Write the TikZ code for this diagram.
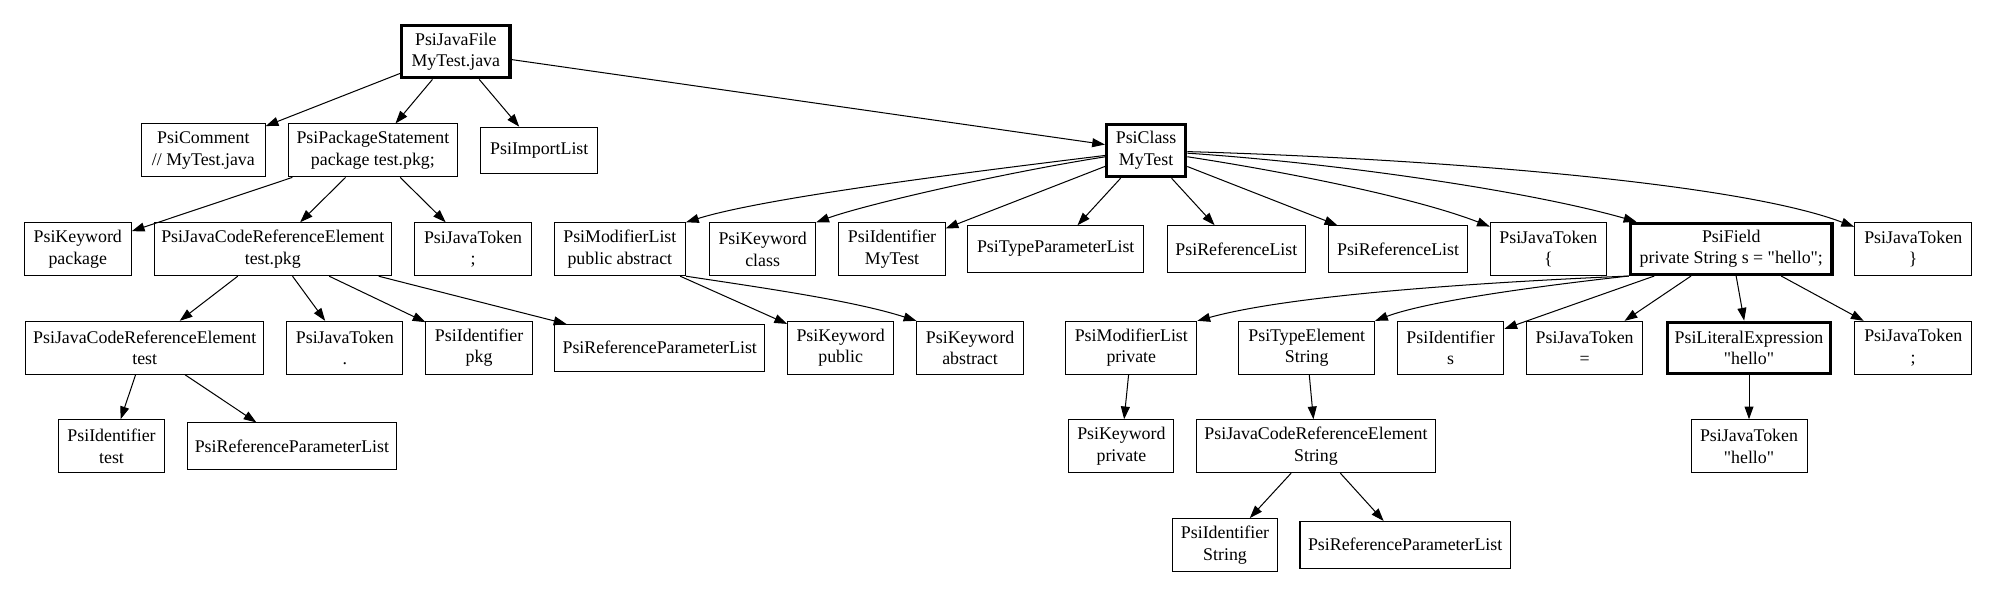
\documentclass[tikz,border=0pt]{standalone}
\usepackage{fontspec}
\setmainfont{Liberation Serif}
\usetikzlibrary{arrows.meta}
\newcommand{\qq}{\textquotedbl}
\tikzset{
  box/.style={draw, line width=0.8pt, rectangle, inner sep=0pt, align=center,
    font=\fontsize{14}{16.8}\selectfont, minimum height=41.5pt},
  onebox/.style={box, minimum height=36.5pt},
  boldbox/.style={box, line width=2.6pt},
  arr/.style={line width=0.8pt, -{Triangle[length=10pt,width=7pt]}},
}
\begin{document}
\begin{tikzpicture}[x=1pt,y=-1pt]
\useasboundingbox (0,0) rectangle (1568,469);
% row 0
\node[boldbox, minimum width=85pt, minimum height=41pt] (jf) at (357.5,40.5) {PsiJavaFile\\MyTest.java};
% row 1
\node[box, minimum width=97pt] (cmt) at (159.5,118) {PsiComment\\// MyTest.java};
\node[box, minimum width=133pt] (pkg) at (292.5,118) {PsiPackageStatement\\package test.pkg;};
\node[onebox, minimum width=92pt] (imp) at (423,118) {PsiImportList};
\node[boldbox, minimum width=62pt, minimum height=41pt] (cls) at (899,118) {PsiClass\\MyTest};
% row 2
\node[box, minimum width=84pt] (kwp) at (61,195.5) {PsiKeyword\\package};
\node[box, minimum width=186pt] (jcr1) at (214,195.5) {PsiJavaCodeReferenceElement\\test.pkg};
\node[box, minimum width=92pt] (tsemi1) at (371,195.5) {PsiJavaToken\\;};
\node[box, minimum width=103pt] (mla) at (486.2,195.5) {PsiModifierList\\public abstract};
\node[box, minimum width=83.3pt] (kwc) at (598.2,195.5) {PsiKeyword\\class};
\node[box, minimum width=83.3pt] (idm) at (699.7,195.5) {PsiIdentifier\\MyTest};
\node[onebox, minimum width=138pt] (tpl) at (828.1,195.3) {PsiTypeParameterList};
\node[onebox, minimum width=107.8pt] (rl1) at (969.8,195.3) {PsiReferenceList};
\node[onebox, minimum width=108.8pt] (rl2) at (1096.6,195.3) {PsiReferenceList};
\node[box, minimum width=91pt] (tlb) at (1214.5,195.5) {PsiJavaToken\\\{};
\node[boldbox, minimum width=158pt, minimum height=40pt] (fld) at (1358,195.2) {PsiField\\private String s = \qq hello\qq;};
\node[box, minimum width=92pt] (trb) at (1500.7,195.5) {PsiJavaToken\\\}};
% row 3
\node[box, minimum width=187pt] (jcr2) at (113.5,272.8) {PsiJavaCodeReferenceElement\\test};
\node[box, minimum width=91pt] (tdot) at (270.5,272.8) {PsiJavaToken\\.};
\node[box, minimum width=83.4pt] (idp) at (375.8,272.8) {PsiIdentifier\\pkg};
\node[onebox, minimum width=164.7pt] (rpl1) at (517.5,272.8) {PsiReferenceParameterList};
\node[box, minimum width=83.2pt] (kwpub) at (659.4,272.8) {PsiKeyword\\public};
\node[box, minimum width=83.4pt] (kwabs) at (760.9,272.8) {PsiKeyword\\abstract};
\node[box, minimum width=102.8pt] (mlp) at (887.4,272.8) {PsiModifierList\\private};
\node[box, minimum width=106.4pt] (te) at (1025,272.8) {PsiTypeElement\\String};
\node[box, minimum width=83.6pt] (ids) at (1137.8,272.8) {PsiIdentifier\\s};
\node[box, minimum width=91pt] (teq) at (1243,272.8) {PsiJavaToken\\=};
\node[boldbox, minimum width=128pt, minimum height=40pt] (lit) at (1371.9,272.8) {PsiLiteralExpression\\\qq hello\qq};
\node[box, minimum width=92pt] (tsemi2) at (1500.7,272.8) {PsiJavaToken\\;};
% row 4
\node[box, minimum width=83pt] (idt) at (87.5,350) {PsiIdentifier\\test};
\node[onebox, minimum width=164pt] (rpl2) at (229,350) {PsiReferenceParameterList};
\node[box, minimum width=82.5pt] (kwpriv) at (879.6,350) {PsiKeyword\\private};
\node[box, minimum width=187pt] (jcr3) at (1032.2,350) {PsiJavaCodeReferenceElement\\String};
\node[box, minimum width=91pt] (thello) at (1371.9,350) {PsiJavaToken\\\qq hello\qq};
% row 5
\node[box, minimum width=83pt] (ids2) at (960.9,427.5) {PsiIdentifier\\String};
\node[onebox, minimum width=165pt] (rpl3) at (1102.2,427.3) {PsiReferenceParameterList};
% edges
\draw[arr] (jf) -- (cmt);
\draw[arr] (jf) -- (pkg);
\draw[arr] (jf) -- (imp);
\draw[arr] (jf) -- (cls);
\draw[arr] (pkg) -- (kwp);
\draw[arr] (pkg) -- (jcr1);
\draw[arr] (pkg) -- (tsemi1);
\draw[arr] (cls) .. controls (760,135) and (600,155) .. (mla.north east);
\draw[arr] (cls) .. controls (790,135) and (680,160) .. (kwc.north east);
\draw[arr] (cls) -- (idm);
\draw[arr] (cls) -- (tpl);
\draw[arr] (cls) -- (rl1);
\draw[arr] (cls) -- (rl2);
\draw[arr] (cls) .. controls (1010,135) and (1110,155) .. (tlb);
\draw[arr] (cls) .. controls (1050,128) and (1200,150) .. (fld);
\draw[arr] (cls) .. controls (1110,124) and (1360,142) .. (trb);
\draw[arr] (jcr1) -- (jcr2);
\draw[arr] (jcr1) -- (tdot);
\draw[arr] (jcr1) -- (idp);
\draw[arr] (jcr1) -- (rpl1);
\draw[arr] (mla) -- (kwpub);
\draw[arr] (mla.south east) .. controls (600,226) and (670,236) .. (kwabs.north west);
\draw[arr] (fld.south west) .. controls (1150,222) and (1010,232) .. (mlp.north east);
\draw[arr] (fld.south west) .. controls (1210,224) and (1120,236) .. (te.north east);
\draw[arr] (fld) -- (ids);
\draw[arr] (fld) -- (teq);
\draw[arr] (fld) -- (lit);
\draw[arr] (fld) -- (tsemi2);
\draw[arr] (jcr2) -- (idt);
\draw[arr] (jcr2) -- (rpl2);
\draw[arr] (mlp) -- (kwpriv);
\draw[arr] (te) -- (jcr3);
\draw[arr] (lit) -- (thello);
\draw[arr] (jcr3) -- (ids2);
\draw[arr] (jcr3) -- (rpl3);
\end{tikzpicture}
\end{document}
